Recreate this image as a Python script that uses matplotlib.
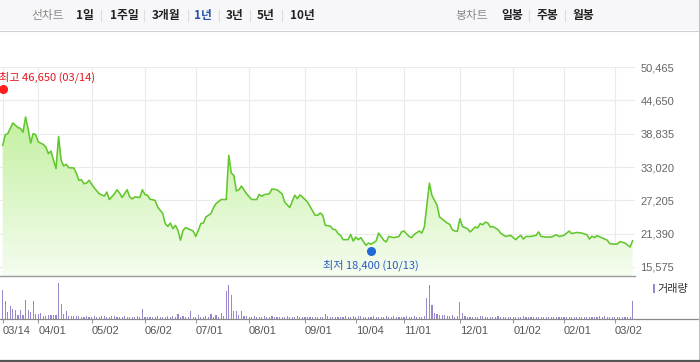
import numpy as np
import matplotlib
matplotlib.use("Agg")
import matplotlib.pyplot as plt
from matplotlib.patches import Rectangle
from matplotlib.lines import Line2D

# ---- data (trading-session index from 2022-03-14) ----
price_day = [0, 1, 2, 4, 5, 6, 7, 8, 9, 10, 11, 12, 13, 14, 16, 17, 18, 19, 20, 21,
             22, 23, 24, 25, 26, 28, 29, 30, 31, 32, 33, 34, 36, 38, 40, 41, 42, 44, 45, 46,
             47, 49, 50, 51, 52, 54, 55, 56, 57, 58, 60, 61, 63, 64, 65, 66, 67, 68, 69, 70,
             71, 72, 73, 75, 76, 77, 78, 79, 80, 82, 83, 84, 86, 88, 89, 90, 91, 92, 93, 94,
             96, 98, 100, 101, 102, 103, 105, 106, 108, 110, 111, 113, 115, 116, 117, 118, 120, 121, 123, 124,
             125, 126, 127, 129, 130, 131, 132, 133, 134, 136, 137, 138, 139, 140, 141, 143, 144, 145, 147, 148,
             150, 151, 152, 154, 155, 156, 157, 158, 160, 161, 162, 164, 165, 166, 168, 169, 171, 172, 174, 175,
             176, 177, 178, 179, 180, 181, 183, 184, 185, 186, 187, 188, 189, 190, 191, 192, 193, 195, 196, 198,
             200, 201, 202, 203, 204, 205, 206, 208, 210, 211, 212, 214, 216, 218, 219, 221, 223, 224, 226, 228,
             230, 231, 232, 233, 234, 236, 237, 238, 239, 241, 242, 243, 245, 247, 248]
price = [36800, 38650, 38850, 40700, 40300, 39900, 39750, 39100, 41750, 39700, 37200, 38850, 38650, 37400, 36950, 36500, 35350, 35800, 34200, 32750,
         38350, 34200, 33200, 33500, 32900, 32850, 31950, 30700, 30800, 30100, 30200, 30700, 29400, 28350, 27950, 28650, 27350, 28350, 29050, 28500,
         27700, 29050, 27800, 27450, 27800, 27700, 29050, 28200, 28100, 27400, 27200, 26050, 24900, 23150, 22650, 23250, 22250, 22850, 21950, 20250,
         21950, 22450, 22250, 21850, 20900, 21950, 23150, 23250, 24300, 24900, 25950, 26650, 27350, 27350, 35050, 31950, 31550, 28850, 29050, 29700,
         28350, 27350, 27350, 28250, 27900, 28200, 28350, 29200, 29050, 28350, 26900, 25950, 28100, 27500, 28150, 27800, 26900, 26150, 24600, 24600,
         25000, 24600, 22850, 22700, 22150, 22100, 21400, 21100, 20350, 20350, 21250, 20100, 20800, 20350, 20700, 19350, 19750, 19550, 20100, 21500,
         20250, 19950, 20900, 20700, 20800, 20900, 21700, 21850, 20900, 20700, 21250, 21850, 21500, 22550, 30200, 28050, 26350, 24300, 23600, 23250,
         23000, 22100, 21850, 21800, 24000, 22650, 22250, 21700, 22100, 22550, 22400, 23150, 22950, 23400, 23250, 22550, 22650, 22100, 21500, 20900,
         21100, 20700, 20350, 20800, 21100, 20450, 20900, 20900, 21100, 21700, 20900, 20800, 20800, 21200, 20900, 21100, 21850, 21400, 21600, 21500,
         21200, 20450, 20950, 20700, 21050, 20650, 20450, 20250, 19650, 19550, 19600, 20000, 19750, 19050, 20150]

volume = [30, 18, 7, 13, 10, 9, 4, 9, 4, 19, 9, 7, 18, 5, 5, 6, 3, 3, 4, 4,
          4, 4, 37, 15, 5, 8, 3, 3, 3, 3, 3, 2, 2, 3, 2, 2, 3, 2, 2, 3,
          3, 2, 2, 3, 3, 2, 2, 2, 3, 2, 2, 2, 2, 3, 2, 10, 2, 2, 2, 2,
          2, 3, 2, 2, 2, 3, 2, 3, 2, 5, 2, 3, 2, 2, 8, 2, 2, 4, 2, 2,
          3, 2, 5, 2, 4, 2, 6, 3, 29, 35, 24, 8, 8, 4, 8, 3, 3, 2, 2, 3,
          2, 2, 2, 3, 2, 2, 3, 2, 2, 2, 2, 2, 3, 2, 2, 2, 3, 2, 2, 2,
          2, 2, 2, 2, 2, 2, 2, 5, 3, 2, 2, 2, 2, 2, 2, 3, 2, 2, 3, 2,
          3, 3, 2, 2, 2, 2, 3, 2, 2, 2, 2, 3, 2, 2, 3, 2, 2, 2, 2, 3,
          2, 2, 3, 2, 2, 2, 3, 21, 35, 14, 6, 5, 4, 4, 4, 3, 3, 4, 2, 3,
          17, 6, 3, 2, 2, 2, 2, 2, 3, 3, 2, 2, 2, 2, 2, 3, 2, 2, 2, 2,
          2, 2, 2, 2, 2, 3, 2, 2, 2, 2, 2, 2, 2, 2, 2, 2, 2, 2, 2, 2,
          2, 2, 2, 2, 2, 2, 2, 2, 2, 2, 2, 2, 2, 2, 2, 3, 2, 3, 2, 2,
          2, 2, 2, 2, 2, 2, 2, 2, 18]

tick_day = [0, 14, 35, 56, 76, 97, 119, 139, 158, 180, 201, 221, 241]
tick_label = ['03/14', '04/01', '05/02', '06/02', '07/01', '08/01', '09/01',
              '10/04', '11/01', '12/01', '01/02', '02/01', '03/02']
y_ticks = [15575, 21390, 27205, 33020, 38835, 44650, 50465]

high_day, high_val, high_text = 0, 46650, '최고 46,650 (03/14)'
low_day, low_val, low_text = 145, 18400, '최저 18,400 (10/13)'

period_btns = ['선차트', '1일', '1주일', '3개월', '1년', '3년', '5년', '10년']
candle_btns = ['봉차트', '일봉', '주봉', '월봉']

KR = ['Noto Sans CJK KR', 'DejaVu Sans']
NUM = 'Liberation Sans'
W, H = 700, 362


def fx(x):
    return x / W


def fy(y):
    return 1 - y / H


fig = plt.figure(figsize=(7, 3.62), dpi=100)
fig.patch.set_facecolor('white')

# ---- top menu bar ----
fig.patches.append(Rectangle((0, fy(30)), fx(699), 30 / H, transform=fig.transFigure,
                             facecolor='#f7f7f9', edgecolor='none', zorder=0))
fig.lines.append(Line2D([0, fx(699)], [fy(30.5)] * 2, transform=fig.transFigure, color='#cfcfd4', lw=0.8))
fig.lines.append(Line2D([fx(698.5)] * 2, [fy(0), fy(360)], transform=fig.transFigure, color='#c4c4c8', lw=0.8))
fig.lines.append(Line2D([0, 1], [fy(360.5)] * 2, transform=fig.transFigure, color='#555555', lw=1.6))

left_x = [48, 85, 124, 166, 203, 235, 266, 302]
for i, (t, x) in enumerate(zip(period_btns, left_x)):
    if i == 0:
        fig.text(fx(x), fy(15), t, ha='center', va='center', fontsize=8.5, color='#8a8a8a', family=KR)
    else:
        c = '#2a52a8' if t == '1년' else '#222222'
        fig.text(fx(x), fy(15), t, ha='center', va='center', fontsize=8.5, color=c,
                 family=KR, fontweight='bold')
right_x = [472, 512, 547, 583]
for i, (t, x) in enumerate(zip(candle_btns, right_x)):
    if i == 0:
        fig.text(fx(x), fy(15), t, ha='center', va='center', fontsize=8.5, color='#8a8a8a', family=KR)
    else:
        fig.text(fx(x), fy(15), t, ha='center', va='center', fontsize=8.5, color='#222222',
                 family=KR, fontweight='bold')
for x in [101, 144, 188, 219, 250, 282, 529, 565]:
    fig.lines.append(Line2D([fx(x)] * 2, [fy(10), fy(21)], transform=fig.transFigure,
                            color='#dddddd', lw=0.8))

# ---- price panel ----
x0, x1 = -2.7 / 2.54, (635 - 2.7) / 2.54
ylo = 15575 - 9 * 174.45
ax = fig.add_axes([0, fy(276), fx(635), (276 - 67) / H])
ax.set_xlim(x0, x1)
ax.set_ylim(ylo, 50465)

poly = ax.fill_between(price_day, price, ylo, color='none', lw=0)
top_c = np.array([0.76, 0.94, 0.62, 1.0])
bot_c = np.array([0.96, 0.99, 0.94, 1.0])
t = np.linspace(0, 1, 256)[:, None, None]
grad = bot_c * (1 - t) + top_c * t
img = ax.imshow(grad, extent=[x0, x1, ylo, 42500], origin='lower', aspect='auto', zorder=1)
img.set_clip_path(poly.get_paths()[0], transform=ax.transData)
ax.plot(price_day, price, color='#62c72d', lw=1.15, zorder=3)
ax.set_xlim(x0, x1)
ax.set_ylim(ylo, 50465)

ax.set_xticks(tick_day)
ax.set_yticks(y_ticks)
ax.set_xticklabels([])
ax.set_yticklabels([f'{v:,}' for v in y_ticks], fontsize=8, color='#666666', family=NUM)
ax.yaxis.tick_right()
ax.tick_params(axis='both', length=0)
ax.tick_params(axis='y', pad=4)
ax.grid(True, color='#ebebeb', lw=0.8, zorder=0)
ax.set_axisbelow(True)
for s in ['top', 'left', 'right']:
    ax.spines[s].set_visible(False)
ax.spines['bottom'].set_color('#9a9a9a')
ax.spines['bottom'].set_linewidth(1.0)

ax.plot([high_day], [high_val], 'o', color='#ff1e1e', ms=5.5, zorder=4, clip_on=False)
ax.annotate(high_text, (high_day, high_val), xytext=(-3, 8.5), textcoords='offset points',
            ha='left', va='center', fontsize=8, color='#e8141e', family=KR, annotation_clip=False)
ax.plot([low_day], [low_val], 'o', color='#1f6ad6', ms=5.5, zorder=4)
ax.annotate(low_text, (low_day, low_val), xytext=(0, -10.5), textcoords='offset points',
            ha='center', va='center', fontsize=8, color='#2a5bc0', family=KR)

# ---- volume panel ----
vx1 = (699 - 2.7) / 2.54
vax = fig.add_axes([0, fy(319.3), fx(699), 43.3 / H])
vax.patch.set_alpha(0)
vax.bar(range(len(volume)), volume, width=0.45, color='#9a86cc', lw=0)
vax.set_xlim(x0, vx1)
vax.set_ylim(0, max(volume) * 43.3 / 36.7)
vax.set_yticks([])
vax.set_xticks(tick_day)
vax.set_xticklabels(tick_label, ha='left', fontsize=8, color='#555555', family=NUM)
vax.tick_params(axis='x', length=3, width=0.8, color='#9a9a9a', pad=2)
for s in ['top', 'left', 'right']:
    vax.spines[s].set_visible(False)
vax.spines['bottom'].set_color('#8a8a8a')
vax.spines['bottom'].set_linewidth(0.9)

fig.patches.append(Rectangle((fx(652.5), fy(293)), 2.5 / W, 9 / H, transform=fig.transFigure,
                             facecolor='#9a86cc', edgecolor='none'))
fig.text(fx(657), fy(289), '거래량', ha='left', va='center', fontsize=8, color='#333333', family=KR)

fig.savefig('out.png', dpi=100)
